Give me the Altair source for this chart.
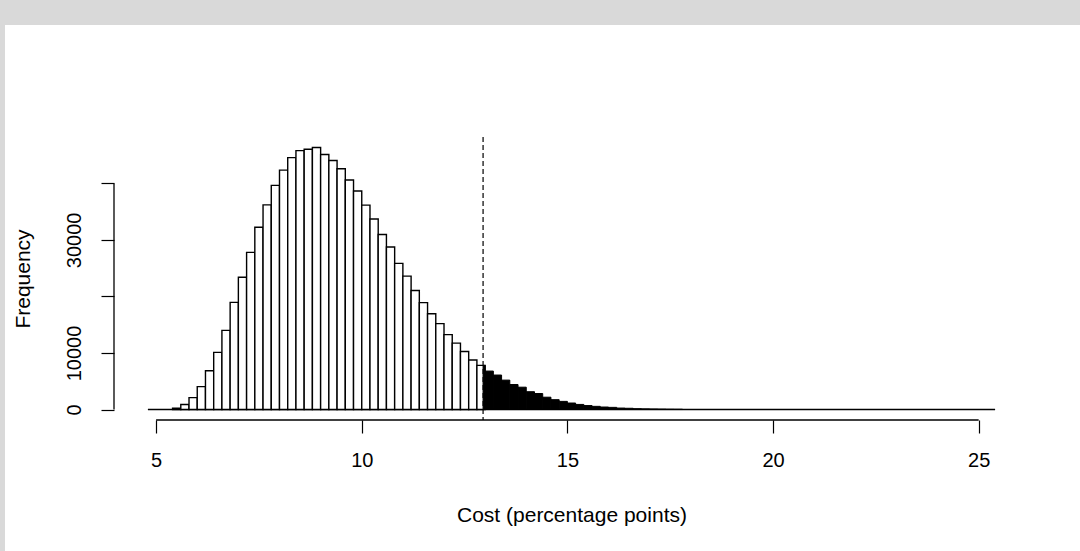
import altair as alt
import pandas as pd

# ---- data (bin width 0.2) ----
white_start = [5.4, 5.6, 5.8, 6.0, 6.2, 6.4, 6.6, 6.8, 7.0, 7.2,
               7.4, 7.6, 7.8, 8.0, 8.2, 8.4, 8.6, 8.8, 9.0, 9.2,
               9.4, 9.6, 9.8, 10.0, 10.2, 10.4, 10.6, 10.8, 11.0, 11.2,
               11.4, 11.6, 11.8, 12.0, 12.2, 12.4, 12.6, 12.8]
white_count = [250, 900, 2100, 4050, 6850, 10100, 14000, 18950, 23400, 27800,
               32250, 36200, 39650, 42350, 44550, 45800, 46050, 46350, 45100, 44050,
               42600, 40600, 38650, 36150, 33700, 30950, 28750, 25850, 23600, 21050,
               18900, 16950, 15200, 13250, 11750, 10250, 8750, 7800]

black_start = [12.8, 13.0, 13.2, 13.4, 13.6, 13.8, 14.0, 14.2, 14.4, 14.6,
               14.8, 15.0, 15.2, 15.4, 15.6, 15.8, 16.0, 16.2, 16.4, 16.6,
               16.8, 17.0, 17.2, 17.4, 17.6]
black_count = [7800, 6800, 6100, 5200, 4420, 3950, 3150, 2830, 2180, 1740,
               1440, 1150, 900, 700, 560, 440, 380, 260, 220, 150,
               120, 100, 80, 60, 50]

bin_width = 0.2
cutoff = 12.95          # dashed reference line
range_min, range_max = 4.8, 25.4   # extent of all histogram breaks
x_ticks = [5, 10, 15, 20, 25]
y_ticks = [0, 10000, 20000, 30000, 40000]
y_shown = [0, 10000, 30000]

# ---- tables ----
white_df = pd.DataFrame({"x0": white_start,
                         "x1": [s + bin_width for s in white_start],
                         "count": white_count})
black_df = pd.DataFrame({"x0": [max(s, cutoff) for s in black_start],
                         "x1": [s + bin_width for s in black_start],
                         "count": black_count})
one = pd.DataFrame({"a": [0]})

# R-style plot region: data range extended by 4 %
xr = range_max - range_min
x_dom = [range_min - 0.04 * xr, range_max + 0.04 * xr]
ymax = max(white_count)
y_dom = [-0.04 * ymax, ymax * 1.04]

W, H = 915, 283
PAD = {"left": 114, "top": 137, "right": 51, "bottom": 131}
FONT = "Liberation Sans"
FS_TICK = 20
FS_TITLE = 21

xs = alt.Scale(domain=x_dom, nice=False, zero=False)
ys = alt.Scale(domain=y_dom, nice=False, zero=False)

label_expr = "indexof([" + ",".join(str(v) for v in y_shown) + "], datum.value) >= 0 ? datum.label : ''"

X_AX = alt.Axis(values=x_ticks, format="d", domain=False, grid=False,
                tickSize=13, tickColor="black", tickWidth=1.2,
                labelPadding=17, labelFont=FONT, labelFontSize=FS_TICK,
                labelColor="black", labelFlush=False,
                title="Cost (percentage points)", titleFont=FONT,
                titleFontSize=FS_TITLE, titleFontWeight="normal",
                titleColor="black", titlePadding=34, zindex=2)
Y_AX = alt.Axis(values=y_ticks, format="d", labelExpr=label_expr, domain=False,
                grid=False, tickSize=13, tickColor="black", tickWidth=1.2,
                labelAngle=270, labelAlign="center", labelBaseline="bottom",
                labelPadding=17, labelFont=FONT, labelFontSize=FS_TICK,
                labelColor="black", labelFlush=False,
                title="Frequency", titleFont=FONT, titleFontSize=FS_TITLE,
                titleFontWeight="normal", titleColor="black",
                titlePadding=31, zindex=2)

frame = alt.Chart(one).mark_rect(fill="white").encode(
    x=alt.value(-(PAD["left"] - 5)), x2=alt.value(W + PAD["right"]),
    y=alt.value(-(PAD["top"] - 25)), y2=alt.value(H + PAD["bottom"]))

baseline = alt.Chart(one).mark_rule(color="black", strokeWidth=1.3).encode(
    x=alt.datum(range_min, scale=xs, axis=X_AX), x2=alt.datum(range_max),
    y=alt.datum(0, scale=ys, axis=Y_AX))

white = alt.Chart(white_df).mark_rect(fill="white", stroke="black", strokeWidth=1.4).encode(
    x=alt.X("x0:Q", scale=xs, axis=X_AX), x2="x1:Q",
    y=alt.Y("count:Q", scale=ys, axis=Y_AX), y2=alt.datum(0))

black = alt.Chart(black_df).mark_rect(fill="black", stroke="black", strokeWidth=1).encode(
    x=alt.X("x0:Q", scale=xs, axis=X_AX), x2="x1:Q",
    y=alt.Y("count:Q", scale=ys, axis=Y_AX), y2=alt.datum(0))

dash = alt.Chart(one).mark_rule(color="black", strokeWidth=1.2, strokeDash=[5, 3]).encode(
    x=alt.datum(cutoff, scale=xs, axis=X_AX))

x_axis_line = alt.Chart(one).mark_rule(color="black", strokeWidth=1.3).encode(
    x=alt.datum(x_ticks[0], scale=xs, axis=X_AX), x2=alt.datum(x_ticks[-1]),
    y=alt.datum(y_dom[0], scale=ys, axis=Y_AX))

y_axis_line = alt.Chart(one).mark_rule(color="black", strokeWidth=1.3).encode(
    y=alt.datum(y_ticks[0], scale=ys, axis=Y_AX), y2=alt.datum(y_ticks[-1]),
    x=alt.datum(x_dom[0], scale=xs, axis=X_AX))

chart = alt.layer(frame, baseline, white, black, dash, x_axis_line, y_axis_line).properties(
    width=W, height=H, padding=PAD, autosize=alt.AutoSizeParams(type="none"),
    background="#d9d9d9"
).configure_view(stroke=None)

chart.save("out.html", embed_options={"renderer": "svg", "actions": False})
